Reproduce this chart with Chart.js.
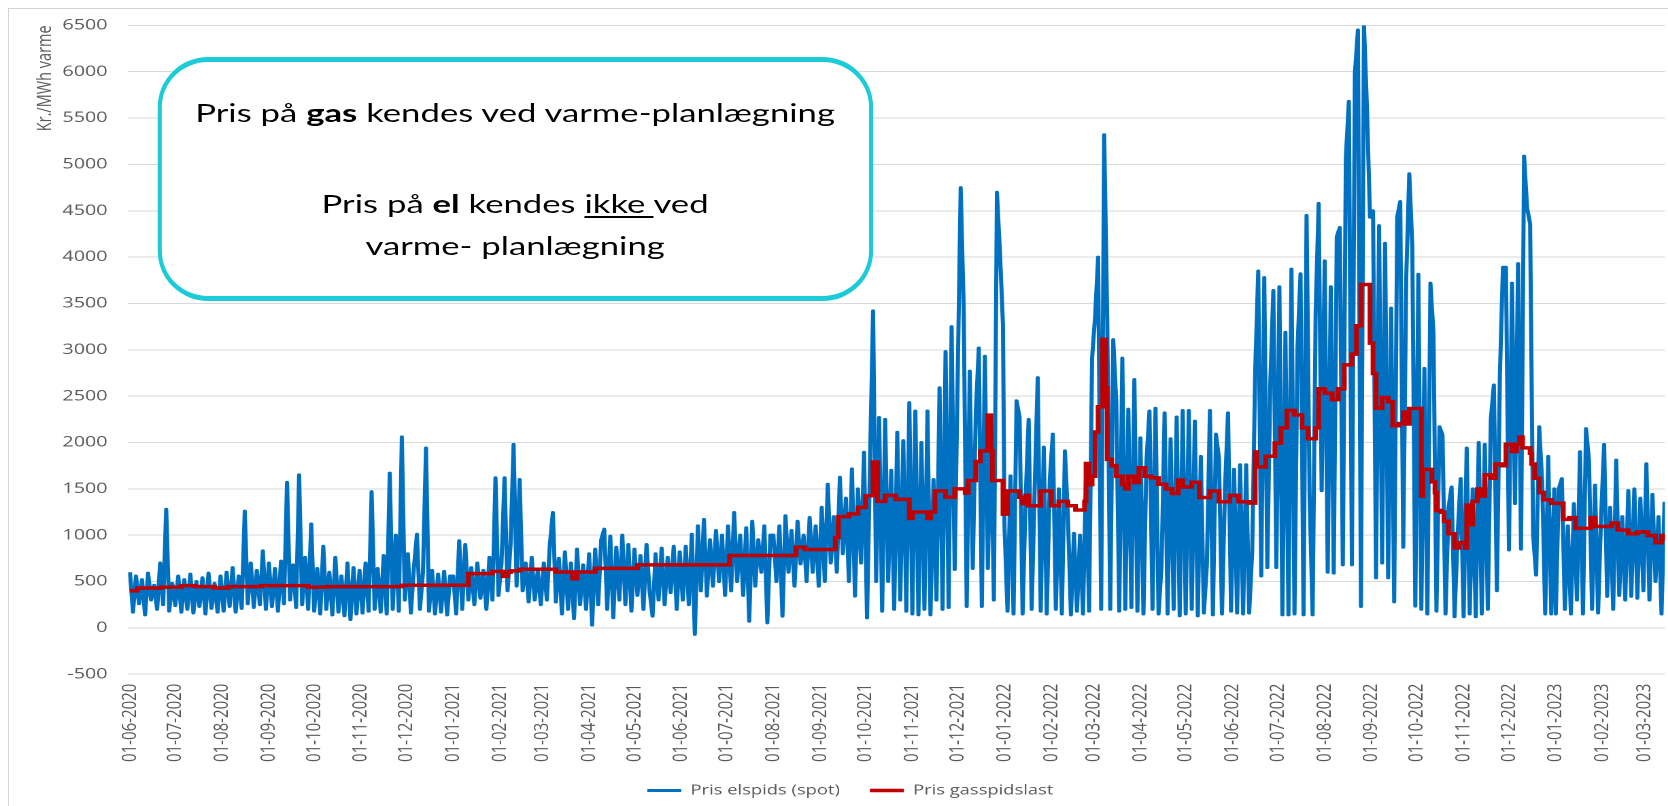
<!DOCTYPE html>
<html lang="da">
<head>
<meta charset="utf-8">
<title>Pris elspids og gasspidslast</title>
<script src="https://cdn.jsdelivr.net/npm/chart.js@4.4.1/dist/chart.umd.min.js"></script>
<style>
  html, body { margin: 0; padding: 0; background: #fff; overflow: hidden; }
  body { width: 1668px; height: 806px; position: relative; }
  /* light frame round the whole figure */
  #frame { position: absolute; left: 8px; top: 8px; width: 1700px; height: 900px; border: 1px solid #d4d4d4; box-sizing: border-box; }
  /* the source picture is stretched sideways, so the chart is drawn narrow and widened */
  #stretch { position: absolute; left: 0; top: 0; width: 1226px; height: 806px; transform: scaleX(1.36); transform-origin: 0 0; }
  #chartWrap { position: absolute; left: 0; top: 0; width: 1226px; height: 806px; }
  .note { position: absolute; left: 115.5px; top: 57px; width: 526.5px; height: 244px; box-sizing: border-box;
          border-style: solid; border-color: #1ccbd7; border-width: 5px 3.7px; border-radius: 37px / 50px; background: #fff; }
  .note-line { position: absolute; left: 115.5px; width: 526.5px; text-align: center; font-family: Lato, sans-serif;
               font-size: 25.5px; line-height: 25.5px; color: #000; white-space: nowrap; }
  .note-line u { text-decoration-thickness: 2px; text-underline-offset: 3px; }
</style>
</head>
<body>
<div id="frame"></div>
<div id="stretch">
  <div id="chartWrap"><canvas id="priceChart"></canvas></div>
  <div class="note"></div>
  <div class="note-line" style="top: 100.4px">Pris på <b>gas</b> kendes ved varme-planlægning</div>
  <div class="note-line" style="top: 190.8px">Pris på <b>el</b> kendes <u>ikke </u>ved</div>
  <div class="note-line" style="top: 233.4px">varme- planlægning</div>
</div>
<script>
// x axis tick labels (first day of each month)
const monthLabels = [
  "01-06-2020", "01-07-2020", "01-08-2020", "01-09-2020", "01-10-2020", "01-11-2020", "01-12-2020",
  "01-01-2021", "01-02-2021", "01-03-2021", "01-04-2021", "01-05-2021", "01-06-2021", "01-07-2021",
  "01-08-2021", "01-09-2021", "01-10-2021", "01-11-2021", "01-12-2021",
  "01-01-2022", "01-02-2022", "01-03-2022", "01-04-2022", "01-05-2022", "01-06-2022", "01-07-2022",
  "01-08-2022", "01-09-2022", "01-10-2022", "01-11-2022", "01-12-2022",
  "01-01-2023", "01-02-2023", "01-03-2023",
];

// spot price, kr./MWh varme, one reading every SPOT_STEP days from the start of each list
const SPOT_STEP = 2;
const spot2020 = [ // from 01-06-2020
  600, 170, 560, 260, 520, 140, 590, 300, 460, 200, 700, 250, 1280, 180, 480,
  240, 560, 170, 520, 200, 580, 160, 500, 230, 540, 150, 590, 210, 480, 170, 560,
  180, 600, 230, 650, 170, 560, 210, 1260, 260, 700, 220, 620, 250, 830, 200,
  700, 230, 640, 180, 720, 260, 1570, 300, 680, 220, 1650, 250, 760, 200, 1120,
  180, 640, 150, 880, 200, 600, 140, 760, 170, 560, 130, 700, 90, 650, 150,
  620, 160, 700, 180, 1470, 200, 640, 170, 780, 150, 1670, 200, 1000, 180, 2060,
  300, 800, 160, 650, 1010, 200, 600, 1940, 180, 620, 150, 580, 170, 610, 140, 560,
];
const spot2021 = [ // from 01-01-2021
  560, 150, 940, 200, 900, 300, 650, 250, 700, 320, 620, 200, 760, 300, 1620, 350,
  700, 1620, 400, 900, 1980, 450, 1600, 400, 700, 280, 760, 300, 620, 250,
  700, 300, 900, 1245, 280, 750, 150, 820, 200, 700, 100, 850, 250, 680, 200,
  800, 30, 850, 250, 950, 1065, 200, 990, 110, 870, 300, 1000, 250, 900, 180,
  850, 350, 780, 200, 900, 400, 126, 800, 300, 860, 250, 760, 380, 880, 200, 820,
  300, 880, 250, 1010, -70, 1100, 400, 1170, 343, 950, 450, 1050, 500, 1000, 350,
  1100, 400, 1245, 500, 1000, 350, 1080, 72, 1150, 450, 950, 600, 1100, 54, 1000,
  1000, 500, 1100, 126, 1210, 600, 1050, 450, 1150, 690, 1000, 500, 1190, 600, 1100, 450,
  1300, 500, 1550, 700, 1200, 600, 1625, 800, 1400, 500, 1715, 343, 1500, 700, 1895,
  108, 1800, 3420, 500, 2270, 180, 2250, 500, 1700, 200, 2110, 300, 2020, 180, 2430,
  150, 2340, 140, 2000, 200, 2340, 140, 1600, 300, 2590, 200, 2980, 220, 3250, 630,
  2680, 4750, 3450, 230, 2770, 640, 2320, 3020, 230, 2930, 640, 2200, 300, 4700, 4050, 3270,
];
const spot2022 = [ // from 01-01-2022
  1100, 180, 1640, 150, 2450, 2270, 150, 1400, 2250, 200, 1500, 2700, 180, 1950, 150, 1600,
  2090, 200, 1500, 150, 1910, 1200, 140, 1020, 180, 1000, 150, 1680, 180, 2910,
  3360, 4000, 200, 5320, 3360, 200, 3110, 2450, 180, 2910, 200, 2360, 220, 2680, 180,
  2050, 150, 1800, 2340, 200, 2370, 150, 680, 2320, 150, 2040, 200, 2275, 130, 2345,
  150, 2345, 200, 2230, 130, 1850, 160, 680, 2345, 140, 2090, 1830, 150, 1500, 2320, 180,
  1710, 160, 1760, 150, 1760, 160, 820, 2770, 3850, 560, 3780, 650, 2650, 3640, 650,
  3680, 140, 3190, 140, 3870, 150, 3025, 3820, 140, 4450, 1430, 140, 3400, 4580, 1480,
  3960, 600, 3680, 590, 4220, 4320, 680, 5070, 5680, 680, 5980, 6450, 230, 6500, 5600, 4430,
  4500, 540, 4340, 700, 4150, 540, 3450, 280, 4430, 4600, 870, 3780, 4900, 4120, 234,
  3815, 200, 2800, 150, 3720, 3180, 180, 2170, 2080, 150, 1300, 1520, 120, 1000, 1610,
  120, 1940, 150, 1500, 120, 2000, 150, 1980, 200, 2250, 2620, 400, 2730, 3890, 3890,
  840, 3720, 1340, 3930, 850, 5090, 4530, 4360, 1000, 570, 2170, 1575, 150, 1850, 150, 1500,
];
const spot2023 = [ // from 01-01-2023
  150, 1500, 1610, 200, 1100, 150, 1340, 300, 1900, 150, 2150, 1800, 200, 1540, 160, 1200,
  1980, 340, 1300, 200, 1810, 350, 1200, 300, 1480, 340, 1500, 320, 1400, 400,
  1770, 300, 1440, 500, 1200, 150, 1360,
];

// gas price: day (counted from 01-06-2020) where a new price starts, and the price
const gasDays = [
  0, 5, 21, 34, 43, 56, 65, 87, 118, 131, 180, 224, 240, 247, 250, 252, 258, 282, 293, 296,
  308, 336, 397, 441, 447, 467, 469, 476, 482, 487, 492, 495, 500, 507, 516, 518, 528, 530, 533, 540,
  546, 553, 555, 560, 563, 568, 570, 571, 578, 581, 589, 591, 593, 595, 603, 610, 615, 621, 626, 632,
  633, 635, 637, 639, 641, 644, 646, 647, 650, 653, 657, 659, 661, 665, 668, 672, 676, 681, 686, 690,
  694, 697, 703, 708, 715, 721, 728, 734, 741, 745, 746, 752, 758, 762, 766, 771, 776, 780, 785, 787,
  791, 796, 800, 804, 809, 812, 815, 821, 823, 825, 829, 833, 836, 840, 843, 845, 847, 855, 856, 862,
  864, 865, 868, 870, 873, 877, 880, 884, 885, 887, 889, 892, 895, 897, 901, 904, 908, 911, 915, 918,
  920, 922, 927, 928, 930, 933, 936, 941, 949, 953, 957, 967, 970, 981, 985, 992, 998, 1005, 1010, 1014,
  1016,
];
const gasPrices = [
  400, 430, 440, 455, 445, 430, 445, 455, 440, 445, 460, 585, 610, 555, 600, 615, 632, 603, 530, 603,
  642, 680, 780, 870, 845, 975, 1200, 1230, 1300, 1426, 1790, 1364, 1430, 1386, 1180, 1250, 1180, 1250, 1477, 1409,
  1500, 1454, 1590, 1795, 1909, 2295, 1909, 1590, 1227, 1477, 1409, 1340, 1430, 1318, 1477, 1318, 1364, 1318, 1272, 1364,
  1773, 1545, 1636, 2113, 2386, 3113, 2590, 1818, 1750, 1636, 1545, 1500, 1636, 1568, 1727, 1636, 1618, 1548, 1500, 1450,
  1594, 1520, 1571, 1407, 1477, 1360, 1430, 1360, 1346, 1899, 1735, 1852, 1993, 2157, 2345, 2298, 2157, 2040, 2157, 2580,
  2532, 2462, 2580, 2837, 2954, 3260, 3705, 3072, 2744, 2368, 2485, 2439, 2180, 2204, 2328, 2200, 2367, 1421, 1710, 1575,
  1460, 1266, 1247, 1150, 1015, 861, 919, 861, 1324, 1112, 1363, 1498, 1421, 1652, 1614, 1768, 1749, 1981, 1903, 1981,
  2058, 1942, 1884, 1768, 1614, 1460, 1382, 1344, 1170, 1189, 1073, 1189, 1093, 1131, 1054, 1015, 1035, 996, 919, 996,
  938,
];

function dayOf(label) {
  const [d, m, y] = label.split("-").map(Number);
  return (Date.UTC(y, m - 1, d) - Date.UTC(2020, 5, 1)) / 86400000;
}

function spotPoints(values, startLabel) {
  const start = dayOf(startLabel);
  return values.map((v, i) => ({ x: start + i * SPOT_STEP, y: v }));
}

const spotSeries = [
  ...spotPoints(spot2020, "01-06-2020"),
  ...spotPoints(spot2021, "01-01-2021"),
  ...spotPoints(spot2022, "01-01-2022"),
  ...spotPoints(spot2023, "01-01-2023"),
];
const gasSeries = gasDays.map((d, i) => ({ x: d, y: gasPrices[i] }));
const tickDays = monthLabels.map(dayOf);

Chart.defaults.font.family = "'Open Sans', sans-serif";
Chart.defaults.color = "#595959";

new Chart(document.getElementById("priceChart"), {
  type: "line",
  data: {
    datasets: [
      {
        label: "Pris gasspidslast",
        data: gasSeries,
        borderColor: "#c00000",
        backgroundColor: "#c00000",
        borderWidth: 3.5,
        stepped: true,
        pointRadius: 0,
        fill: false,
      },
      {
        label: "Pris elspids (spot)",
        data: spotSeries,
        borderColor: "#0070c0",
        backgroundColor: "#0070c0",
        borderWidth: 3,
        borderJoinStyle: "round",
        pointRadius: 0,
        fill: false,
      },
    ],
  },
  options: {
    responsive: true,
    maintainAspectRatio: false,
    animation: false,
    devicePixelRatio: 2,
    layout: { padding: { left: 24.5, right: 0, top: 25.4, bottom: -1.3 } },
    plugins: {
      legend: {
        position: "bottom",
        reverse: true,
        labels: {
          usePointStyle: true,
          pointStyle: "line",
          pointStyleWidth: 25,
          padding: 22,
          color: "#595959",
          font: { size: 13.5 },
        },
      },
      tooltip: { enabled: false },
    },
    scales: {
      x: {
        type: "linear",
        min: -1.3,
        max: 1016.3,
        grid: { display: false, drawTicks: false },
        border: { display: false },
        afterBuildTicks: (axis) => {
          axis.ticks = tickDays.map((v) => ({ value: v }));
        },
        afterFit: (axis) => {
          axis.height = 87.6;
          axis.paddingLeft = 0;
          axis.paddingRight = 0;
        },
        ticks: {
          autoSkip: false,
          minRotation: 90,
          maxRotation: 90,
          padding: 9.5,
          color: "#595959",
          font: { size: 15 },
          callback: (v, i) => monthLabels[i],
        },
      },
      y: {
        min: -500,
        max: 6500,
        afterFit: (axis) => {
          axis.width = 69.6;
        },
        grid: { color: "#d9d9d9", drawTicks: false },
        border: { display: false },
        ticks: {
          stepSize: 500,
          padding: 15,
          color: "#595959",
          font: { size: 14.5 },
          callback: (v) => String(v),
        },
        title: {
          display: true,
          text: "Kr./MWh varme",
          align: "end",
          color: "#595959",
          font: { size: 14.5 },
          padding: 0,
        },
      },
    },
  },
});
</script>
</body>
</html>
